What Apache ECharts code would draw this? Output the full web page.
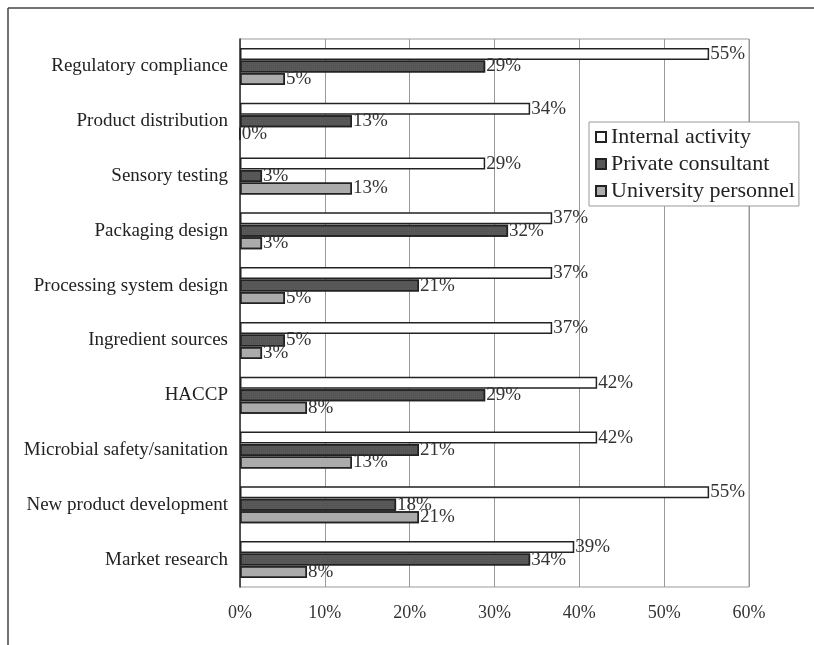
<!DOCTYPE html>
<html><head><meta charset="utf-8">
<script src="https://cdn.jsdelivr.net/npm/echarts@6/dist/echarts.min.js"></script>
<style>html,body{margin:0;padding:0;background:#fff}#c{width:814px;height:645px}</style>
</head><body><div id="c"></div>
<script>
const categories = ["Regulatory compliance","Product distribution","Sensory testing","Packaging design","Processing system design","Ingredient sources","HACCP","Microbial safety/sanitation","New product development","Market research"];
const internalActivity = [55.3,34.2,28.9,36.8,36.8,36.8,42.1,42.1,55.3,39.4];
const privateConsultant = [28.9,13.2,2.6,31.6,21.1,5.3,28.9,21.1,18.4,34.2];
const universityPersonnel = [5.3,0,13.2,2.6,5.3,2.6,7.9,13.2,21.1,7.9];
const seriesNames = ["Internal activity","Private consultant","University personnel"];
const xTicks = ["0%","10%","20%","30%","40%","50%","60%"];

const serif = '"Liberation Serif","DejaVu Serif",serif';
const chart = echarts.init(document.getElementById('c'));
const lbl = {show:true,position:'right',distance:1,fontFamily:serif,fontSize:19,color:'#333',
  formatter:p=>Math.round(p.value)+'%'};
function mk(name,data,color,decal){
  return {name,type:'bar',data,barWidth:12,barGap:'4%',
    itemStyle:{color,borderColor:'#222',borderWidth:1.5,decal},
    label:lbl};
}
chart.setOption({
  animation:false,
  backgroundColor:'#fff',
  grid:{left:240,right:65,top:39,bottom:58,show:true,borderColor:'#999',borderWidth:1},
  legend:{
    data:seriesNames.map(n=>({name:n,icon:'rect'})),
    orient:'vertical',left:589,top:122,
    backgroundColor:'#fff',borderColor:'#999',borderWidth:1,
    padding:[4,4,4,6],itemGap:5,itemWidth:10,itemHeight:10,
    textStyle:{fontFamily:serif,fontSize:22,color:'#222',padding:[0,0,0,0]}
  },
  xAxis:{type:'value',min:0,max:60,interval:10,
    axisLabel:{formatter:v=>xTicks[v/10],fontFamily:serif,fontSize:18,color:'#333',margin:17},
    splitLine:{lineStyle:{color:'#999'}},axisLine:{show:false},axisTick:{show:false}},
  yAxis:{type:'category',data:categories,inverse:true,
    axisLabel:{fontFamily:serif,fontSize:19,color:'#222',margin:12},
    axisLine:{lineStyle:{color:'#333',width:1.5}},axisTick:{show:false}},
  series:[
    mk(seriesNames[0],internalActivity,'#fff',undefined),
    mk(seriesNames[1],privateConsultant,'#555',{symbol:'rect',symbolSize:0.5,dashArrayX:[1,1],dashArrayY:[1,1],color:'rgba(140,140,140,0.6)'}),
    mk(seriesNames[2],universityPersonnel,'#aaa',{symbol:'rect',symbolSize:0.5,dashArrayX:[1,1],dashArrayY:[1,1],color:'rgba(200,200,200,0.6)'})
  ],
  graphic:[
    {type:'line',shape:{x1:8,y1:8,x2:814,y2:8},style:{stroke:'#444',lineWidth:1.5}},
    {type:'line',shape:{x1:8,y1:8,x2:8,y2:645},style:{stroke:'#444',lineWidth:1.5}}
  ]
});
</script></body></html>
